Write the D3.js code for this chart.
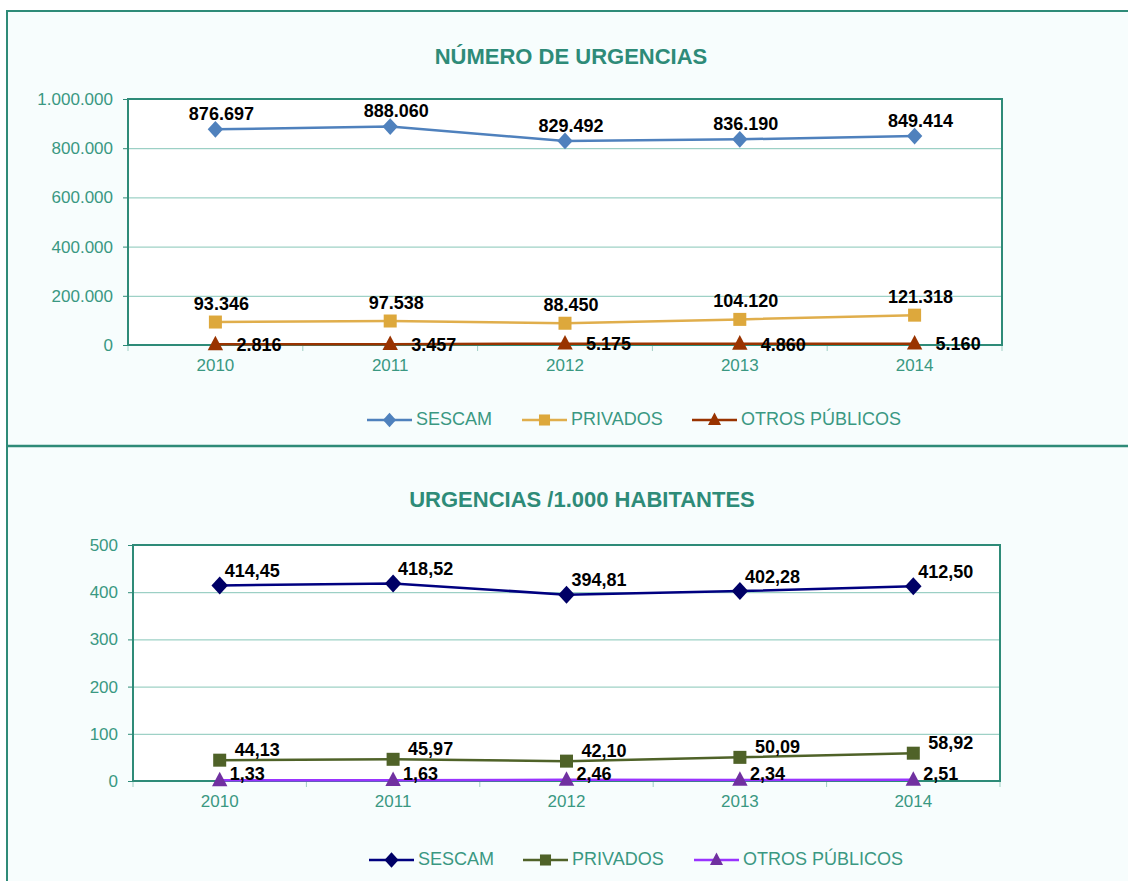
<!DOCTYPE html>
<html><head><meta charset="utf-8">
<script src="https://cdn.jsdelivr.net/npm/d3@7"></script>
<style>
html,body{margin:0;padding:0;background:#fff;}
svg{display:block;font-family:"Liberation Sans",Arial,sans-serif;}
</style></head>
<body>
<svg id="c" width="1128" height="881"></svg>
<script>
const years = ["2010","2011","2012","2013","2014"];
const seriesNames = ["SESCAM","PRIVADOS","OTROS PÚBLICOS"];
// Chart 1: número de urgencias
const sescamTotal = [876697, 888060, 829492, 836190, 849414];
const privadosTotal = [93346, 97538, 88450, 104120, 121318];
const otrosTotal = [2816, 3457, 5175, 4860, 5160];
const ticks1 = [0, 200000, 400000, 600000, 800000, 1000000];
// Chart 2: urgencias / 1.000 habitantes
const sescamRate = [414.45, 418.52, 394.81, 402.28, 412.50];
const privadosRate = [44.13, 45.97, 42.10, 50.09, 58.92];
const otrosRate = [1.33, 1.63, 2.46, 2.34, 2.51];
const ticks2 = [0, 100, 200, 300, 400, 500];

const teal = "#2e8b78", tealText = "#3a9882";
const svg = d3.select("#c");

const fmtThousands = d3.formatLocale({decimal:",", thousands:".", grouping:[3], currency:["","€"]});
const fInt = fmtThousands.format(",d");
const fDec = fmtThousands.format(",.2f");

function marker(g, type, x, y, color, s) {
  if (type === "diamond") {
    g.append("path").attr("d", `M${x},${y - s*0.6}L${x + s*0.55},${y}L${x},${y + s*0.6}L${x - s*0.55},${y}Z`).attr("fill", color);
  } else if (type === "square") {
    g.append("rect").attr("x", x - s/2).attr("y", y - s/2).attr("width", s).attr("height", s).attr("fill", color);
  } else {
    g.append("path").attr("d", `M${x},${y - s*0.62}L${x + s*0.55},${y + s*0.42}L${x - s*0.55},${y + s*0.42}Z`).attr("fill", color);
  }
}

function drawChart(cfg) {
  const g = svg.append("g");
  const x = d3.scaleBand().domain(years).range([cfg.left, cfg.right]);
  const y = d3.scaleLinear().domain([0, d3.max(cfg.ticks)]).range([cfg.bottom, cfg.top]);
  g.append("rect").attr("x", cfg.left).attr("y", cfg.top).attr("width", cfg.right - cfg.left)
   .attr("height", cfg.bottom - cfg.top).attr("fill", "#fff");
  g.append("g").attr("transform", `translate(${cfg.left},0)`)
   .call(d3.axisLeft(y).tickValues(cfg.ticks).tickSize(-(cfg.right - cfg.left)).tickFormat(""))
   .call(a => { a.select(".domain").remove(); a.selectAll("line").attr("stroke", "#86c6b8").attr("stroke-width", 1); });
  g.append("g").attr("transform", `translate(${cfg.left},0)`)
   .call(d3.axisLeft(y).tickValues(cfg.ticks).tickSize(5).tickPadding(10).tickFormat(cfg.tickFmt))
   .call(a => { a.select(".domain").remove();
     a.selectAll("line").attr("stroke", teal);
     a.selectAll("text").attr("fill", tealText).style("font-size", "17px").style("font-family", "Liberation Sans, Arial, sans-serif"); });
  g.append("g").attr("transform", `translate(0,${cfg.bottom})`)
   .call(d3.axisBottom(x).tickSize(0).tickPadding(14))
   .call(a => { a.select(".domain").remove();
     a.selectAll("text").attr("fill", tealText).style("font-size", "17px").style("font-family", "Liberation Sans, Arial, sans-serif"); });
  const edges = years.map(d => x(d)).concat([cfg.right]);
  g.selectAll(null).data(edges).enter().append("line")
   .attr("x1", d => d).attr("x2", d => d).attr("y1", cfg.bottom).attr("y2", cfg.bottom + 6)
   .attr("stroke", "#9fcfc4").attr("stroke-width", 1);
  g.append("rect").attr("x", cfg.left).attr("y", cfg.top).attr("width", cfg.right - cfg.left)
   .attr("height", cfg.bottom - cfg.top).attr("fill", "none").attr("stroke", teal).attr("stroke-width", 2);
  g.append("text").attr("x", cfg.titleX).attr("y", cfg.titleY).attr("text-anchor", "middle")
   .attr("fill", teal).style("font-size", "22px").style("font-weight", "bold").text(cfg.title);

  const cx = d => x(d) + x.bandwidth()/2;
  const line = d3.line().x((d,i) => cx(years[i])).y(d => y(d));
  cfg.series.forEach(s => {
    g.append("path").datum(s.values).attr("d", line).attr("fill", "none")
     .attr("stroke", s.lineColor).attr("stroke-width", 2.5);
  });
  cfg.series.forEach(s => {
    s.values.forEach((v, i) => marker(g, s.marker, cx(years[i]), y(v), s.color, s.size));
  });
  cfg.series.forEach(s => {
    s.values.forEach((v, i) => {
      g.append("text").attr("x", cx(years[i]) + s.lx).attr("y", y(v) + s.ly)
       .attr("text-anchor", s.anchor).attr("dominant-baseline", "middle")
       .attr("fill", "#000").style("font-size", "18px").style("font-weight", "bold")
       .text(cfg.labelFmt(v));
    });
  });
  cfg.series.forEach((s, i) => {
    const lx = cfg.legendX[i], ly = cfg.legendY;
    g.append("line").attr("x1", lx).attr("x2", lx + 45).attr("y1", ly).attr("y2", ly)
     .attr("stroke", s.lineColor).attr("stroke-width", 2.5);
    marker(g, s.marker, lx + 22.5, ly, s.color, s.size * 0.85);
    g.append("text").attr("x", lx + 49).attr("y", ly).attr("dominant-baseline", "middle")
     .attr("fill", tealText).style("font-size", "18px").text(s.name);
  });
}

svg.append("rect").attr("x", 7).attr("y", 11).attr("width", 1130).attr("height", 880)
  .attr("fill", "#f7fdfd").attr("stroke", teal).attr("stroke-width", 2);
svg.append("line").attr("x1", 7).attr("x2", 1130).attr("y1", 446).attr("y2", 446)
  .attr("stroke", teal).attr("stroke-width", 2.5);

drawChart({
  title: "NÚMERO DE URGENCIAS", titleX: 571, titleY: 64,
  left: 128, right: 1002, top: 99, bottom: 345, ticks: ticks1,
  tickFmt: fInt, labelFmt: fInt,
  legendX: [367, 522, 692], legendY: 420,
  series: [
    {name: seriesNames[0], values: sescamTotal, color: "#4f81bd", lineColor: "#4f81bd", marker: "diamond", size: 14, lx: 6, ly: -14, anchor: "middle"},
    {name: seriesNames[1], values: privadosTotal, color: "#dda83c", lineColor: "#e0ae4c", marker: "square", size: 13, lx: 6, ly: -17, anchor: "middle"},
    {name: seriesNames[2], values: otrosTotal, color: "#993300", lineColor: "#993300", marker: "triangle", size: 14, lx: 21, ly: 2, anchor: "start"}
  ]
});

drawChart({
  title: "URGENCIAS /1.000 HABITANTES", titleX: 582, titleY: 507,
  left: 133, right: 1000, top: 545, bottom: 781, ticks: ticks2,
  tickFmt: d3.format("d"), labelFmt: fDec,
  legendX: [369, 523, 694], legendY: 860,
  series: [
    {name: seriesNames[0], values: sescamRate, color: "#000066", lineColor: "#000080", marker: "diamond", size: 15, lx: 5, ly: -13, anchor: "start"},
    {name: seriesNames[1], values: privadosRate, color: "#4f6228", lineColor: "#4f6228", marker: "square", size: 13, lx: 15, ly: -9, anchor: "start"},
    {name: seriesNames[2], values: otrosRate, color: "#7030a0", lineColor: "#9933ff", marker: "triangle", size: 14, lx: 10, ly: -5, anchor: "start"}
  ]
});
</script>
</body></html>
